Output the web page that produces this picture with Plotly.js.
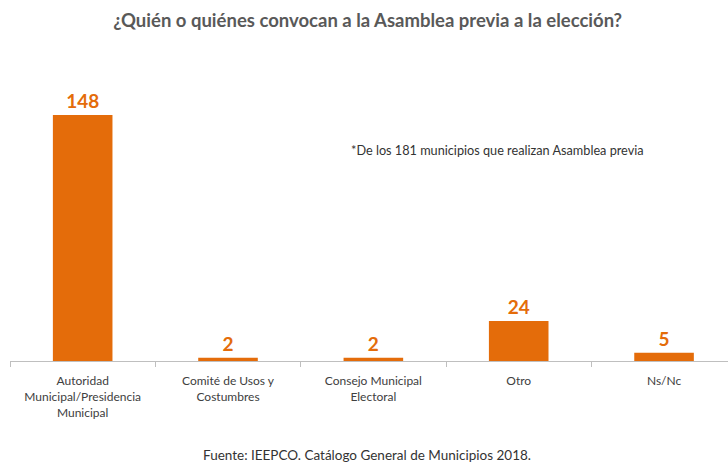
<!DOCTYPE html>
<html>
<head>
<meta charset="utf-8">
<script src="https://cdn.plot.ly/plotly-3.0.1.min.js"></script>
<style>
  html, body { margin: 0; padding: 0; background: #fff; }
  #chart { width: 728px; height: 462px; }
</style>
</head>
<body>
<div id="chart"></div>
<script>
// categories and counts
var categories = [
  'Autoridad<br>Municipal/Presidencia<br>Municipal',
  'Comité de Usos y<br>Costumbres',
  'Consejo Municipal<br>Electoral',
  'Otro',
  'Ns/Nc'
];
var counts = [148, 2, 2, 24, 5];

var orange = '#E46C0A';

var trace = {
  x: categories,
  y: counts,
  type: 'bar',
  marker: {color: orange},
  text: counts.map(String),
  textposition: 'outside',
  textfont: {family: 'Lato, sans-serif', size: 19, color: orange, weight: 'bold'},
  cliponaxis: false,
  hoverinfo: 'none'
};

var layout = {
  width: 728,
  height: 462,
  margin: {l: 10, r: 0, t: 60, b: 101},
  paper_bgcolor: '#fff',
  plot_bgcolor: '#fff',
  bargap: 0.59,
  showlegend: false,
  font: {family: 'Lato, sans-serif', color: '#404040'},
  title: {
    text: '<b>¿Quién o quiénes convocan a la Asamblea previa a la elección?</b>',
    font: {family: 'Lato, sans-serif', size: 18.5, color: '#595959'},
    x: 0.505, xanchor: 'center',
    y: 0.955, yanchor: 'middle'
  },
  xaxis: {
    type: 'category',
    range: [-0.5, 4.44],
    showline: true,
    linecolor: '#bfbfbf',
    linewidth: 1,
    ticks: 'outside',
    tickson: 'boundaries',
    ticklen: 5,
    tickcolor: '#bfbfbf',
    ticklabelstandoff: 9,
    tickfont: {size: 12, color: '#404040'},
    showgrid: false,
    zeroline: false
  },
  yaxis: {
    range: [0, 181],
    visible: false,
    showgrid: false,
    zeroline: false
  },
  annotations: [
    {
      text: '*De los 181 municipios que realizan Asamblea previa',
      xref: 'paper', yref: 'paper',
      x: 0.472, y: 0.7, xanchor: 'left', yanchor: 'middle',
      showarrow: false,
      font: {size: 12.7, color: '#333333'}
    },
    {
      text: 'Fuente: IEEPCO. Catálogo General de Municipios 2018.',
      xref: 'paper', yref: 'paper',
      x: 0.497, y: -0.313, xanchor: 'center', yanchor: 'middle',
      showarrow: false,
      font: {size: 13.5, color: '#333333'}
    }
  ]
};

Plotly.newPlot('chart', [trace], layout, {displayModeBar: false, staticPlot: true});
</script>
</body>
</html>
